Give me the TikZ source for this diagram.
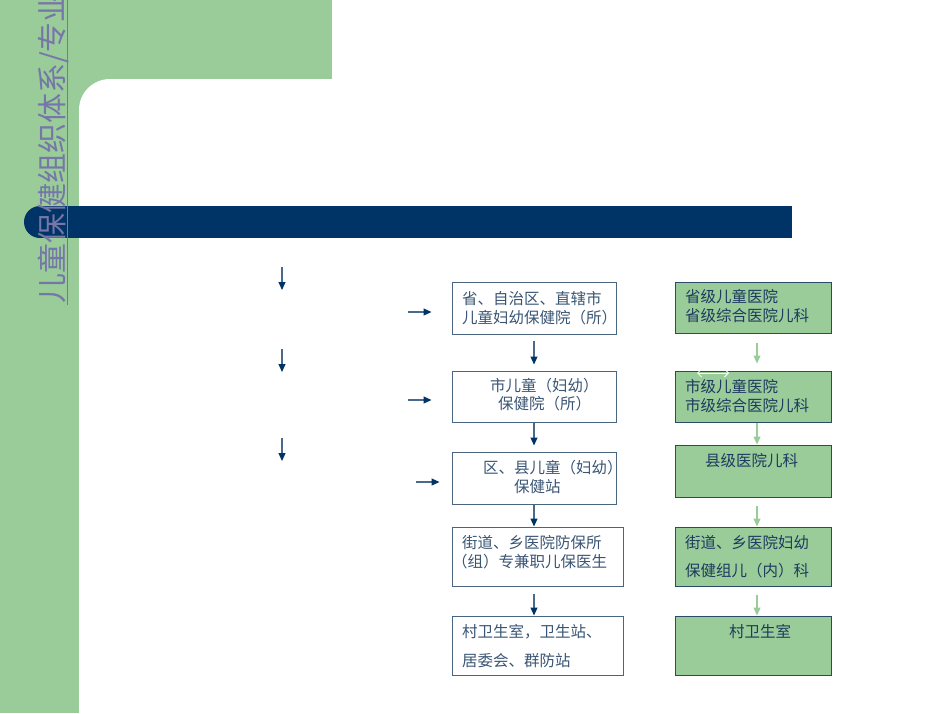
\documentclass[tikz,border=0pt]{standalone}
\usepackage{fontspec}
\newfontfamily\cjk{Noto Sans CJK SC}
\usetikzlibrary{arrows.meta}
\definecolor{bggreen}{HTML}{99CC99}
\definecolor{navy}{HTML}{003366}
\definecolor{titlecol}{HTML}{7676A8}
\definecolor{midtext}{HTML}{3A5574}
\definecolor{righttext}{HTML}{1E3A5F}
\definecolor{midborder}{HTML}{4A6580}
\definecolor{rightborder}{HTML}{2A4A6A}
\definecolor{arrline}{HTML}{4A6A8C}
\definecolor{garrow}{HTML}{9ACC9A}
\tikzset{
  mbox/.style={draw=midborder, line width=1pt, fill=white, inner sep=0pt},
  rbox/.style={draw=rightborder, line width=1pt, fill=bggreen, inner sep=0pt},
  mtext/.style={font=\cjk\fontsize{15.5}{18}\selectfont, text=midtext, inner sep=0pt, anchor=west},
  rtext/.style={font=\cjk\fontsize{15.5}{18}\selectfont, text=righttext, inner sep=0pt, anchor=west},
  narrow/.style={draw=arrline, line width=1.1pt, -{Triangle[length=8pt,width=7pt,color=navy]}},
  garr/.style={draw=garrow, line width=1.1pt, -{Triangle[length=8pt,width=7pt,color=garrow]}}
}
\begin{document}
\begin{tikzpicture}[x=1pt,y=-1pt]
\useasboundingbox (0,0) rectangle (950,713);
\begin{scope}
\clip (0,0) rectangle (950,713);
\fill[white] (0,0) rectangle (950,713);
% green frame
\fill[bggreen] (0,0) rectangle (79,713);
\fill[bggreen] (0,0) rectangle (332,79);
\fill[bggreen] (79,79) rectangle (130,130);
\fill[white, rounded corners=31pt] (79,79) rectangle (1100,900);
% blue bar
\fill[navy] (40,206) rectangle (792,238);
\fill[navy] (40,222) circle[radius=16pt];
% vertical title
\node[rotate=90, anchor=west, inner sep=0pt, text=titlecol,
      font=\cjk\fontsize{30}{33}\selectfont] (title) at (53,304) {儿童保健组织体系/专业};
\draw[titlecol, line width=1pt] (67,305) -- (67,0);
\end{scope}

% left down arrows
\coordinate (d1) at (282,267);
\coordinate (d2) at (282,349);
\coordinate (d3) at (282,438);
\draw[narrow] (d1) -- ++(0,23);
\draw[narrow] (d2) -- ++(0,23);
\draw[narrow] (d3) -- ++(0,23);

% middle column boxes
\node[mbox, minimum width=164pt, minimum height=52pt] (m1) at (534,308) {};
\node[mbox, minimum width=164pt, minimum height=51pt] (m2) at (534,396.5) {};
\node[mbox, minimum width=164pt, minimum height=52pt] (m3) at (534,478) {};
\node[mbox, minimum width=171pt, minimum height=59pt] (m4) at (537.5,556.5) {};
\node[mbox, minimum width=171pt, minimum height=59pt] (m5) at (537.5,645.5) {};

\node[mtext] (m1a) at (462,299) {省、自治区、直辖市};
\node[mtext] (m1b) at (462,318) {儿童妇幼保健院（所）};
\node[mtext] (m2a) at (490,386) {市儿童（妇幼）};
\node[mtext] (m2b) at (498,404) {保健院（所）};
\node[mtext] (m3a) at (483,468) {区、县儿童（妇幼）};
\node[mtext] (m3b) at (514,487) {保健站};
\node[mtext] (m4a) at (462,543) {街道、乡医院防保所};
\node[mtext] (m4b) at (452,562) {（组）专兼职儿保医生};
\node[mtext] (m5a) at (462,632) {村卫生室，卫生站、};
\node[mtext] (m5b) at (462,661) {居委会、群防站};

% right column boxes
\node[rbox, minimum width=156pt, minimum height=51pt] (r1) at (753,307.5) {};
\node[rbox, minimum width=156pt, minimum height=51pt] (r2) at (753,396.5) {};
\node[rbox, minimum width=156pt, minimum height=52pt] (r3) at (753,471) {};
\node[rbox, minimum width=156pt, minimum height=59pt] (r4) at (753,556.5) {};
\node[rbox, minimum width=156pt, minimum height=59pt] (r5) at (753,645.5) {};

\node[rtext] (r1a) at (685,297) {省级儿童医院};
\node[rtext] (r1b) at (685,316) {省级综合医院儿科};
\node[rtext] (r2a) at (685,387) {市级儿童医院};
\node[rtext] (r2b) at (685,406) {市级综合医院儿科};
\node[rtext] (r3a) at (705,461) {县级医院儿科};
\node[rtext] (r4a) at (685,543) {街道、乡医院妇幼};
\node[rtext] (r4b) at (685,571) {保健组儿（内）科};
\node[rtext] (r5a) at (729,632) {村卫生室};

% small white double arrow mark on r2
\draw[white, line width=0.8pt, {Straight Barb[length=4pt,width=8pt]}-{Straight Barb[length=4pt,width=8pt]}] (697,373) -- (729,373);

% right-pointing arrows
\coordinate (h1) at (408,312);
\coordinate (h2) at (408,400);
\coordinate (h3) at (416,482);
\draw[narrow, shorten >=20pt] (h1) -- (h1 -| m1.west);
\draw[narrow, shorten >=20pt] (h2) -- (h2 -| m2.west);
\draw[narrow, shorten >=12pt] (h3) -- (h3 -| m3.west);

% middle vertical arrows
\draw[narrow, shorten <=6pt, shorten >=6pt] (m1.south) -- (m2.north);
\draw[narrow, shorten >=6pt] (m2.south) -- (m3.north);
\draw[narrow] (m3.south) -- (m4.north -| m3.south);
\draw[narrow, shorten <=7pt] (m4.south -| m3.south) -- (m5.north -| m3.south);

% green vertical arrows
\draw[garr, shorten <=9pt, shorten >=7pt] ([xshift=4pt]r1.south) -- ([xshift=4pt]r2.north);
\draw[garr] ([xshift=4pt]r2.south) -- ([xshift=4pt]r3.north);
\draw[garr, shorten <=8pt] ([xshift=4pt]r3.south) -- ([xshift=4pt]r4.north);
\draw[garr, shorten <=8pt] ([xshift=4pt]r4.south) -- ([xshift=4pt]r5.north);
\end{tikzpicture}
\end{document}
